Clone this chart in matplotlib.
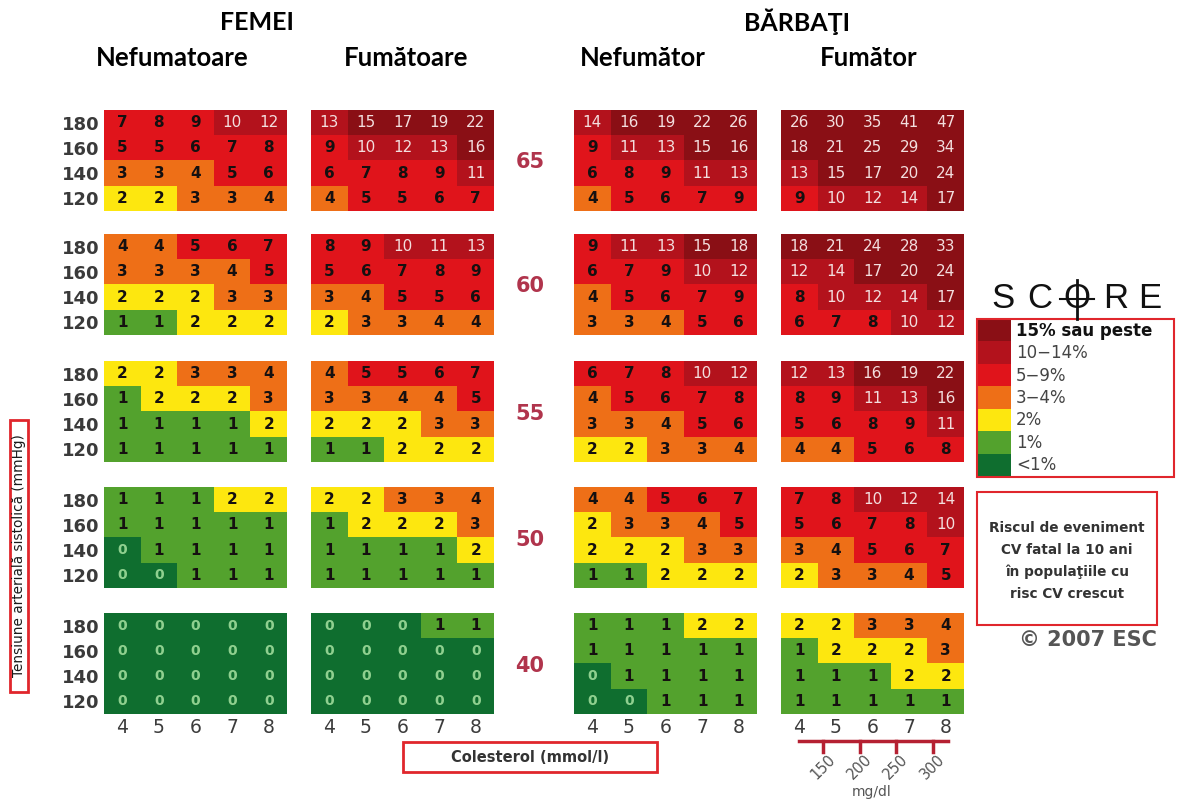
import numpy as np
import matplotlib
matplotlib.use("Agg")
import matplotlib.pyplot as plt
from matplotlib.colors import ListedColormap, BoundaryNorm
from matplotlib.patches import Rectangle
from matplotlib.lines import Line2D
from matplotlib import transforms

# SCORE chart data: rows are SBP 180..120, columns cholesterol 4..8 mmol/l
ages = [65, 60, 55, 50, 40]
sbp = [180, 160, 140, 120]
chol = [4, 5, 6, 7, 8]
mgdl = [150, 200, 250, 300]

women_nonsmoker = [
    [[7, 8, 9, 10, 12], [5, 5, 6, 7, 8], [3, 3, 4, 5, 6], [2, 2, 3, 3, 4]],
    [[4, 4, 5, 6, 7], [3, 3, 3, 4, 5], [2, 2, 2, 3, 3], [1, 1, 2, 2, 2]],
    [[2, 2, 3, 3, 4], [1, 2, 2, 2, 3], [1, 1, 1, 1, 2], [1, 1, 1, 1, 1]],
    [[1, 1, 1, 2, 2], [1, 1, 1, 1, 1], [0, 1, 1, 1, 1], [0, 0, 1, 1, 1]],
    [[0, 0, 0, 0, 0], [0, 0, 0, 0, 0], [0, 0, 0, 0, 0], [0, 0, 0, 0, 0]],
]
women_smoker = [
    [[13, 15, 17, 19, 22], [9, 10, 12, 13, 16], [6, 7, 8, 9, 11], [4, 5, 5, 6, 7]],
    [[8, 9, 10, 11, 13], [5, 6, 7, 8, 9], [3, 4, 5, 5, 6], [2, 3, 3, 4, 4]],
    [[4, 5, 5, 6, 7], [3, 3, 4, 4, 5], [2, 2, 2, 3, 3], [1, 1, 2, 2, 2]],
    [[2, 2, 3, 3, 4], [1, 2, 2, 2, 3], [1, 1, 1, 1, 2], [1, 1, 1, 1, 1]],
    [[0, 0, 0, 1, 1], [0, 0, 0, 0, 0], [0, 0, 0, 0, 0], [0, 0, 0, 0, 0]],
]
men_nonsmoker = [
    [[14, 16, 19, 22, 26], [9, 11, 13, 15, 16], [6, 8, 9, 11, 13], [4, 5, 6, 7, 9]],
    [[9, 11, 13, 15, 18], [6, 7, 9, 10, 12], [4, 5, 6, 7, 9], [3, 3, 4, 5, 6]],
    [[6, 7, 8, 10, 12], [4, 5, 6, 7, 8], [3, 3, 4, 5, 6], [2, 2, 3, 3, 4]],
    [[4, 4, 5, 6, 7], [2, 3, 3, 4, 5], [2, 2, 2, 3, 3], [1, 1, 2, 2, 2]],
    [[1, 1, 1, 2, 2], [1, 1, 1, 1, 1], [0, 1, 1, 1, 1], [0, 0, 1, 1, 1]],
]
men_smoker = [
    [[26, 30, 35, 41, 47], [18, 21, 25, 29, 34], [13, 15, 17, 20, 24], [9, 10, 12, 14, 17]],
    [[18, 21, 24, 28, 33], [12, 14, 17, 20, 24], [8, 10, 12, 14, 17], [6, 7, 8, 10, 12]],
    [[12, 13, 16, 19, 22], [8, 9, 11, 13, 16], [5, 6, 8, 9, 11], [4, 4, 5, 6, 8]],
    [[7, 8, 10, 12, 14], [5, 6, 7, 8, 10], [3, 4, 5, 6, 7], [2, 3, 3, 4, 5]],
    [[2, 2, 3, 3, 4], [1, 2, 2, 2, 3], [1, 1, 1, 2, 2], [1, 1, 1, 1, 1]],
]
groups = [women_nonsmoker, women_smoker, men_nonsmoker, men_smoker]
group_titles = ["Nefumatoare", "Fumătoare", "Nefumător", "Fumător"]

risk_bins = [1, 2, 3, 5, 10, 15]
risk_colors = ["#0f6e2f", "#53a22d", "#fde70f", "#ee6f17", "#e0141b", "#b3121c", "#8a0f15"]
legend_labels = ["<1%", "1%", "2%", "3−4%", "5−9%", "10−14%", "15% sau peste"]

cmap = ListedColormap(risk_colors)
norm = BoundaryNorm(np.arange(-0.5, 7.5), cmap.N)

W, H = 1177, 800
fig = plt.figure(figsize=(W / 100, H / 100), dpi=100)


def fbox(x0, y0, x1, y1):
    return [x0 / W, 1 - y1 / H, (x1 - x0) / W, (y1 - y0) / H]


def fx(x):
    return x / W


def fy(y):
    return 1 - y / H


col_left = [104, 311, 574, 781]
row_top = [110, 234, 361, 487, 613]
bw, bh = 183, 101

bottom_axes = []
for g, data in enumerate(groups):
    for a, age in enumerate(ages):
        ax = fig.add_axes(fbox(col_left[g], row_top[a], col_left[g] + bw, row_top[a] + bh))
        grid = np.array(data[a])
        ax.imshow(np.digitize(grid, risk_bins), cmap=cmap, norm=norm, aspect="auto",
                  interpolation="nearest", extent=(3.5, 8.5, 110, 190))
        for i, s in enumerate(sbp):
            for j, c in enumerate(chol):
                v = grid[i, j]
                if v == 0:
                    ax.text(c, s, "0", ha="center", va="center", fontsize=10,
                            color="#8fd08f", fontweight="bold")
                elif v >= 10:
                    ax.text(c, s, str(v), ha="center", va="center", fontsize=11,
                            color="#f3dede")
                else:
                    ax.text(c, s, str(v), ha="center", va="center", fontsize=11,
                            color="#151010", fontweight="bold")
        for sp in ax.spines.values():
            sp.set_visible(False)
        ax.tick_params(length=0)
        ax.set_xticks([])
        if g == 0:
            ax.set_yticks(sbp)
            ax.set_yticklabels([str(s) for s in sbp], fontsize=13, fontweight="bold",
                               color="#3a3a3a")
            ax.tick_params(axis="y", pad=3)
        else:
            ax.set_yticks([])
        if a == len(ages) - 1:
            ax.set_xticks(chol)
            ax.set_xticklabels([str(c) for c in chol], fontsize=13.5, color="#3c3c3c")
            ax.tick_params(axis="x", pad=3)
            bottom_axes.append(ax)

# age labels
for a, age in enumerate(ages):
    fig.text(fx(530), fy(row_top[a] + bh / 2 + 2), str(age), ha="center", va="center",
             fontsize=15, fontweight="bold", color="#b0344c")

# titles
title_font = ["Lato", "DejaVu Sans"]
fig.text(fx(257), fy(22), "FEMEI", ha="center", va="center", fontsize=18,
         fontweight="bold", family=title_font)
fig.text(fx(797), fy(22), "BĂRBAŢI", ha="center", va="center", fontsize=18,
         fontweight="bold", family=title_font)
for g, t in enumerate(group_titles):
    cx = [172, 406, 643, 869][g]
    fig.text(fx(cx), fy(58), t, ha="center", va="center", fontsize=18.5,
             fontweight="bold", family=title_font)

red = "#e0262c"

# y label box
fig.add_artist(Rectangle((fx(10), fy(692)), fx(18), (692 - 420) / H, transform=fig.transFigure,
                         fill=False, edgecolor=red, linewidth=2))
fig.text(fx(19.5), fy(556), "Tensiune arterială sistolică (mmHg)", rotation=90,
         ha="center", va="center", fontsize=9.8, color="#1a1a1a")

# cholesterol box
fig.add_artist(Rectangle((fx(403), fy(772)), fx(254), 30 / H, transform=fig.transFigure,
                         fill=False, edgecolor=red, linewidth=2))
fig.text(fx(530), fy(757), "Colesterol (mmol/l)", ha="center", va="center",
         fontsize=10.5, fontweight="bold", color="#333333")

# mg/dl scale under men smokers
axm = bottom_axes[3]
tr = transforms.blended_transform_factory(axm.transData, fig.transFigure)
scale_red = "#b52032"
fig.add_artist(Line2D([chol[0], chol[-1] + 0.05], [fy(741), fy(741)], transform=tr,
                      color=scale_red, linewidth=2.5))
for k, m in enumerate(mgdl):
    xt = chol[0] + 0.65 + k
    fig.add_artist(Line2D([xt, xt], [fy(741), fy(752)], transform=tr,
                          color=scale_red, linewidth=2.5))
    fig.text(xt + 0.12, fy(752), str(m), transform=tr, rotation=45, ha="right", va="top",
             rotation_mode="anchor", fontsize=10.5, color="#555555")
fig.text(fx(872), fy(792), "mg/dl", ha="center", va="center", fontsize=10, color="#555555")

# SCORE logo
score_x = [1003, 1040, 1077, 1116, 1150]
for k, ch in enumerate("SCORE"):
    fig.text(fx(score_x[k]), fy(299), ch, ha="center", va="center", fontsize=25,
             color="#111111", family="Liberation Sans")
fig.add_artist(Line2D([fx(1077), fx(1077)], [fy(280), fy(319)], transform=fig.transFigure,
                      color="#111111", linewidth=2))
fig.add_artist(Line2D([fx(1060), fx(1094)], [fy(299), fy(299)], transform=fig.transFigure,
                      color="#111111", linewidth=1.5))

# legend
fig.add_artist(Rectangle((fx(977), fy(477)), fx(197), 158 / H, transform=fig.transFigure,
                         fill=False, edgecolor=red, linewidth=1.5))
axl = fig.add_axes(fbox(978, 320, 1011, 476))
axl.imshow(np.arange(len(risk_colors))[::-1].reshape(-1, 1), cmap=cmap, norm=norm,
           aspect="auto", interpolation="nearest")
axl.set_axis_off()
slot = 156 / len(legend_labels)
for k, lab in enumerate(legend_labels[::-1]):
    top = k == 0
    fig.text(fx(1016), fy(320 + (k + 0.5) * slot), lab, ha="left", va="center",
             fontsize=12, fontweight="bold" if top else "normal",
             color="#111111" if top else "#444444")

# description box
fig.add_artist(Rectangle((fx(977), fy(625)), fx(180), 133 / H, transform=fig.transFigure,
                         fill=False, edgecolor=red, linewidth=1.5))
desc = ["Riscul de eveniment", "CV fatal la 10 ani", "în populaţiile cu", "risc CV crescut"]
for k, line in enumerate(desc):
    fig.text(fx(1067), fy(528 + k * 22), line, ha="center", va="center", fontsize=9.8,
             fontweight="bold", color="#333333")
fig.text(fx(1088), fy(640), "© 2007 ESC", ha="center", va="center", fontsize=15,
         fontweight="bold", color="#555555")

fig.savefig("out.png", dpi=100, facecolor="white")
